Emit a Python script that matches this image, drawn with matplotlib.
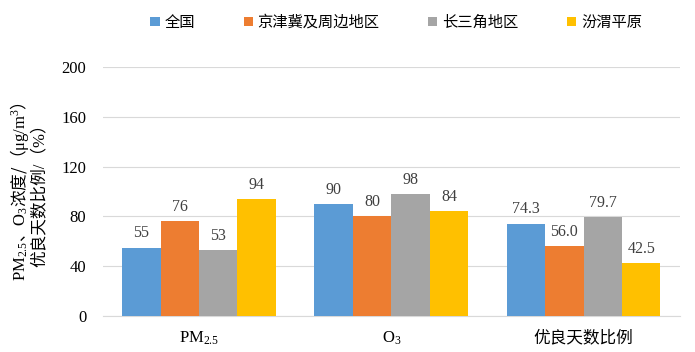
import numpy as np
import matplotlib.pyplot as plt

plt.rcParams['font.family'] = ['Liberation Serif', 'Noto Sans CJK SC', 'DejaVu Sans']
plt.rcParams['mathtext.fontset'] = 'custom'
plt.rcParams['mathtext.rm'] = 'Liberation Serif'
plt.rcParams['mathtext.it'] = 'Liberation Serif'
plt.rcParams['mathtext.sf'] = 'Noto Sans CJK SC'

categories = ['PM$_{2.5}$', 'O$_3$', '优良天数比例']
regions = ['全国', '京津冀及周边地区', '长三角地区', '汾渭平原']
colors = ['#5B9BD5', '#ED7D31', '#A5A5A5', '#FFC000']
values = [
    [55, 90, 74.3],
    [76, 80, 56.0],
    [53, 98, 79.7],
    [94, 84, 42.5],
]
# labels: integers for concentrations, one decimal for ratio
labels = [
    ['55', '90', '74.3'],
    ['76', '80', '56.0'],
    ['53', '98', '79.7'],
    ['94', '84', '42.5'],
]

fig = plt.figure(figsize=(6.95, 3.52), dpi=100)
ax = fig.add_axes([0.148, 0.102, 0.83, 0.708])

x = np.arange(len(categories))
w = 0.2
for i, r in enumerate(regions):
    pos = x + (i - 1.5) * w
    bars = ax.bar(pos, values[i], w, color=colors[i], label=r, zorder=3)
    for b, t in zip(bars, labels[i]):
        ax.text(b.get_x() + b.get_width() / 2, b.get_height() + 5, t,
                ha='center', va='bottom', fontsize=11.5, color='#404040')

ax.set_ylim(0, 200)
ax.set_xlim(-0.5, 2.5)
ax.set_yticks(range(0, 201, 40))
ax.set_xticks(x)
ax.set_xticklabels(categories, fontsize=12)
ax.tick_params(axis='y', labelsize=12, length=0, pad=12)
ax.tick_params(axis='x', length=0, pad=10)
ax.grid(axis='y', color='#D9D9D9', linewidth=0.8, zorder=0)
for s in ['top', 'right', 'left']:
    ax.spines[s].set_visible(False)
ax.spines['bottom'].set_color('#D9D9D9')

ylab1 = r'$\mathrm{PM}_{2.5}\mathsf{、}\mathrm{O}_3\mathsf{浓度/（}\mathrm{\mu g/m}^3\mathsf{）}$'
ylab2 = '优良天数比例/（%）'
ax.set_ylabel(ylab1 + '\n' + ylab2, fontsize=12, linespacing=1.0, labelpad=10)

fig.legend(loc='upper center', bbox_to_anchor=(0.57, 1.0), ncol=4, frameon=False,
           handlelength=0.6, handleheight=0.6, handletextpad=0.3, columnspacing=3.2,
           prop={'family': ['Noto Sans CJK SC'], 'size': 11})

fig.savefig('out.png', dpi=100)
